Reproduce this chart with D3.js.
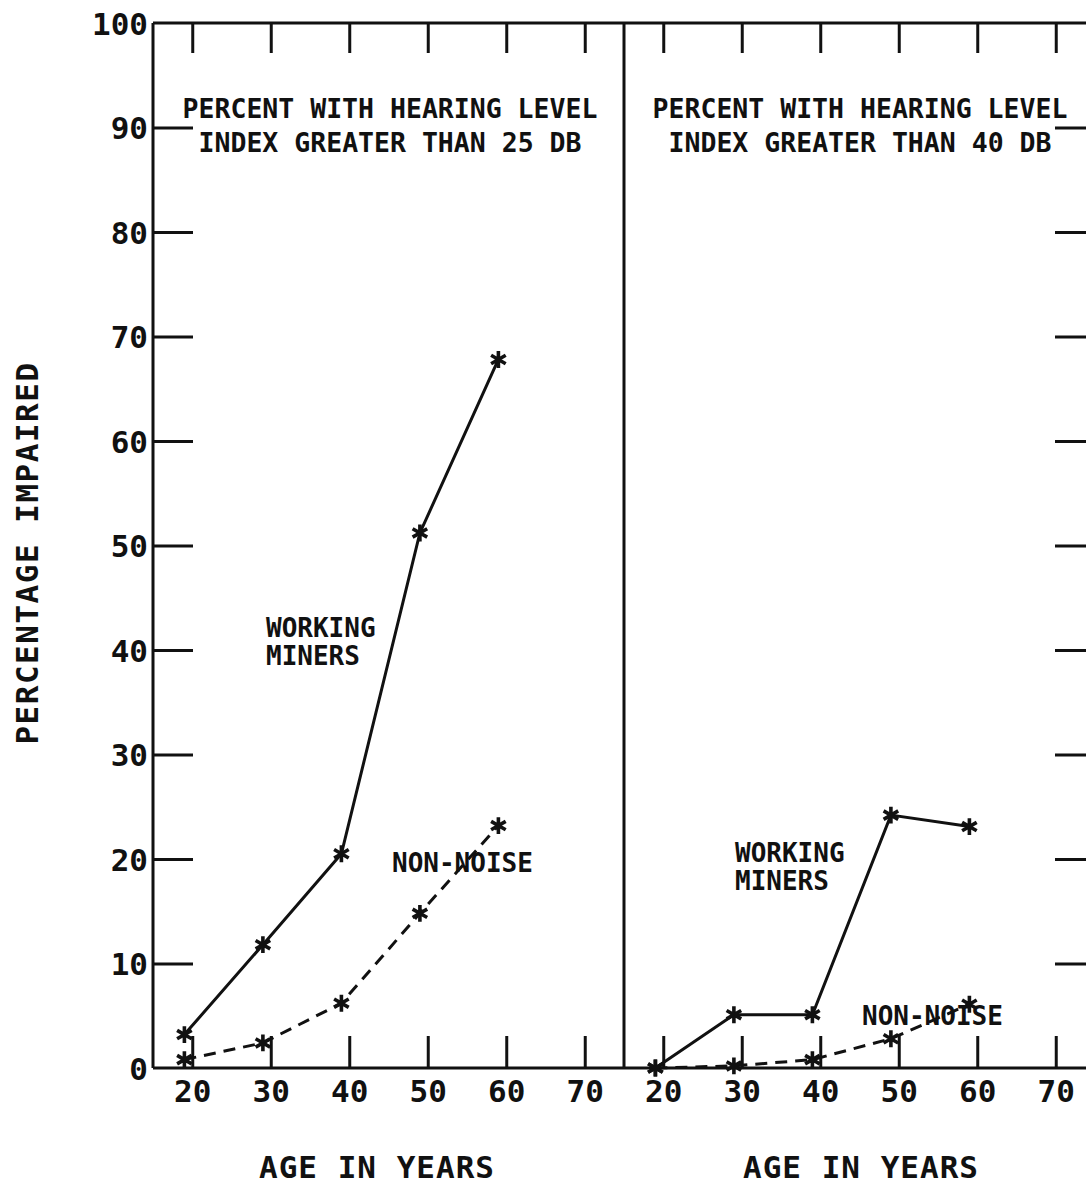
<!DOCTYPE html>
<html>
<head>
<meta charset="utf-8">
<script src="https://cdn.jsdelivr.net/npm/d3@7"></script>
<style>
  html, body { margin: 0; padding: 0; background: #fff; }
  svg { display: block; }
  text { font-family: "DejaVu Sans Mono", "Liberation Mono", monospace; font-weight: bold; fill: #111; }
</style>
</head>
<body>
<svg id="chart" width="1086" height="1191"></svg>
<script>
// Age groups (years) at which each series is plotted
const ages = [19, 29, 39, 49, 59];

// Percent with hearing level index > 25 dB
const miners25 = [3.2, 11.8, 20.5, 51.2, 67.8];
const nonNoise25 = [0.8, 2.4, 6.2, 14.8, 23.2];

// Percent with hearing level index > 40 dB
const miners40 = [0, 5.1, 5.1, 24.2, 23.1];
const nonNoise40 = [0, 0.2, 0.8, 2.8, 6.1];

// Axis ticks
const ageTicks = [20, 30, 40, 50, 60, 70];
const pctTicks = [0, 10, 20, 30, 40, 50, 60, 70, 80, 90, 100];
const innerPctTicks = [10, 20, 30, 40, 50, 60, 70, 80, 90];

const panelTitles = [
  ["PERCENT WITH HEARING LEVEL", "INDEX GREATER THAN 25 DB"],
  ["PERCENT WITH HEARING LEVEL", "INDEX GREATER THAN 40 DB"]
];
const seriesLabels = ["WORKING", "MINERS"];
const nonNoiseLabel = "NON-NOISE";
const xTitle = "AGE IN YEARS";
const yTitle = "PERCENTAGE IMPAIRED";

const svg = d3.select("#chart");
const ink = "#111";

const plotTop = 23, plotBottom = 1068;
const left0 = 153, divider = 624, right1 = 1095;

const y = d3.scaleLinear().domain([0, 100]).range([plotBottom, plotTop]);
const xLeft = d3.scaleLinear().domain([15, 75]).range([left0, divider]);
const xRight = d3.scaleLinear().domain([15, 75]).range([divider, right1]);

// Frame
const frame = svg.append("g").attr("stroke", ink).attr("stroke-width", 3).attr("fill", "none");
frame.append("line").attr("x1", left0).attr("x2", right1).attr("y1", plotTop).attr("y2", plotTop);
frame.append("line").attr("x1", left0).attr("x2", right1).attr("y1", plotBottom).attr("y2", plotBottom);
frame.append("line").attr("x1", left0).attr("x2", left0).attr("y1", plotTop).attr("y2", plotBottom);
frame.append("line").attr("x1", divider).attr("x2", divider).attr("y1", plotTop).attr("y2", plotBottom);
frame.append("line").attr("x1", right1).attr("x2", right1).attr("y1", plotTop).attr("y2", plotBottom);

function styleAxis(g) {
  g.select(".domain").remove();
  g.selectAll(".tick line").attr("stroke", ink).attr("stroke-width", 3);
  g.selectAll(".tick text")
    .style("font-size", "31px")
    .style("font-family", "'DejaVu Sans Mono', monospace")
    .style("font-weight", "bold")
    .attr("fill", ink);
}

// Left percentage axis (labelled, inward ticks)
svg.append("g")
  .attr("transform", `translate(${left0},0)`)
  .call(d3.axisLeft(y).tickValues(pctTicks).tickSize(-40).tickSizeOuter(0).tickPadding(5))
  .call(styleAxis)
  .call(g => g.selectAll(".tick line").filter(d => d === 0 || d === 100).remove())
  .call(g => g.selectAll(".tick text").attr("dy", "0.36em"));

// Right border ticks (no labels)
svg.append("g")
  .attr("transform", `translate(${right1},0)`)
  .call(d3.axisRight(y).tickValues(innerPctTicks).tickSize(-40).tickSizeOuter(0).tickFormat(""))
  .call(styleAxis);

// Per-panel age axes
[xLeft, xRight].forEach(x => {
  svg.append("g")
    .attr("transform", `translate(0,${plotBottom})`)
    .call(d3.axisBottom(x).tickValues(ageTicks).tickSize(-32).tickSizeOuter(0).tickPadding(12))
    .call(styleAxis)
    .call(g => g.selectAll(".tick text").attr("dy", "0.71em"));
  svg.append("g")
    .attr("transform", `translate(0,${plotTop})`)
    .call(d3.axisTop(x).tickValues(ageTicks).tickSize(-30).tickSizeOuter(0).tickFormat(""))
    .call(styleAxis);
});

// Panel titles
const titleCenters = [390, 860];
panelTitles.forEach((lines, i) => {
  lines.forEach((t, j) => {
    svg.append("text")
      .attr("x", titleCenters[i])
      .attr("y", 118 + j * 34)
      .attr("text-anchor", "middle")
      .style("font-size", "26.5px")
      .text(t);
  });
});

// Axis titles
[377, 861].forEach(cx => {
  svg.append("text")
    .attr("x", cx)
    .attr("y", 1178)
    .attr("text-anchor", "middle")
    .style("font-size", "31px")
    .style("letter-spacing", "1px")
    .text(xTitle);
});
svg.append("text")
  .attr("transform", "translate(38,553) rotate(-90)")
  .attr("text-anchor", "middle")
  .style("font-size", "31px")
  .style("letter-spacing", "1.5px")
  .text(yTitle);

// Series labels
function label(lines, x0, y0) {
  lines.forEach((t, j) => {
    svg.append("text")
      .attr("x", x0)
      .attr("y", y0 + j * 27.5)
      .style("font-size", "26px")
      .text(t);
  });
}
label(seriesLabels, 266, 637);
label(seriesLabels, 735, 862);
label([nonNoiseLabel], 392, 872);
label([nonNoiseLabel], 862, 1025);

// Data lines with asterisk markers
const star = d3.symbol().type(d3.symbolAsterisk).size(200);
function series(x, values, dashed) {
  const pts = ages.map((a, i) => [a, values[i]]);
  const line = d3.line().x(d => x(d[0])).y(d => y(d[1]));
  svg.append("path")
    .datum(pts)
    .attr("d", line)
    .attr("fill", "none")
    .attr("stroke", ink)
    .attr("stroke-width", 3)
    .attr("stroke-dasharray", dashed ? "12,8" : null);
  svg.append("g").selectAll("path")
    .data(pts)
    .join("path")
    .attr("transform", d => `translate(${x(d[0])},${y(d[1])})`)
    .attr("d", star)
    .attr("fill", "none")
    .attr("stroke", ink)
    .attr("stroke-width", 3.6);
}
series(xLeft, miners25, false);
series(xLeft, nonNoise25, true);
series(xRight, miners40, false);
series(xRight, nonNoise40, true);
</script>
</body>
</html>
